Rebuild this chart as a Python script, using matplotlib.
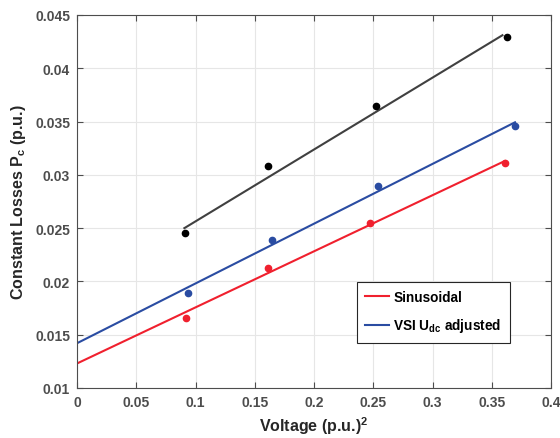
import matplotlib.pyplot as plt

plt.rcParams['font.family'] = 'Liberation Sans'
plt.rcParams['font.weight'] = 'bold'
plt.rcParams['mathtext.fontset'] = 'custom'
plt.rcParams['mathtext.rm'] = 'Liberation Sans:bold'
plt.rcParams['mathtext.it'] = 'Liberation Sans:bold'
plt.rcParams['mathtext.bf'] = 'Liberation Sans:bold'

# measured points
black_x = [0.091, 0.161, 0.252, 0.3626]
black_y = [0.02454, 0.0308, 0.0365, 0.04297]
blue_x = [0.094, 0.1643, 0.2543, 0.370]
blue_y = [0.01891, 0.02389, 0.02898, 0.03461]
red_x = [0.0917, 0.161, 0.2475, 0.3612]
red_y = [0.0166, 0.02123, 0.02545, 0.03111]

# fitted lines (end points)
black_fit_x = [0.0906, 0.359]
black_fit_y = [0.0250, 0.0431]
blue_fit_x = [0.0, 0.3696]
blue_fit_y = [0.0142, 0.03493]
red_fit_x = [0.0, 0.361]
red_fit_y = [0.0123, 0.0313]

RED = '#f0202e'
BLUE = '#2a4ca2'
DARK = '#404040'
TXT = '#4d4d4d'

fig = plt.figure(figsize=(5.6, 4.39), dpi=100)
ax = fig.add_axes([0.1375, 0.1139, 0.8465, 0.8497])

ax.plot(black_fit_x, black_fit_y, color=DARK, linewidth=1.5)
ax.plot(red_fit_x, red_fit_y, color=RED, linewidth=1.5, label='Sinusoidal')
ax.plot(blue_fit_x, blue_fit_y, color=BLUE, linewidth=1.5, label=r'VSI U$_\mathbf{dc}$ adjusted')
ax.plot(black_x, black_y, 'o', color='black', markersize=4.5)
ax.plot(blue_x, blue_y, 'o', color=BLUE, markersize=4.5)
ax.plot(red_x, red_y, 'o', color=RED, markersize=4.5)

ax.set_xlim(0, 0.4)
ax.set_ylim(0.01, 0.045)
ax.set_xticks([0, 0.05, 0.1, 0.15, 0.2, 0.25, 0.3, 0.35, 0.4])
ax.set_xticklabels(['0', '0.05', '0.1', '0.15', '0.2', '0.25', '0.3', '0.35', '0.4'])
ax.set_yticks([0.01, 0.015, 0.02, 0.025, 0.03, 0.035, 0.04, 0.045])
ax.set_yticklabels(['0.01', '0.015', '0.02', '0.025', '0.03', '0.035', '0.04', '0.045'])
ax.grid(True, color='#e6e6e6', linewidth=0.8)
ax.set_axisbelow(True)
ax.tick_params(direction='in', top=True, right=True, length=4, width=0.8,
               colors=TXT, labelsize=10, pad=5)
for lbl in ax.get_xticklabels() + ax.get_yticklabels():
    lbl.set_fontweight('bold')
for s in ax.spines.values():
    s.set_color(TXT)
    s.set_linewidth(0.8)

ax.set_xlabel(r'Voltage (p.u.)$^\mathbf{2}$', fontsize=11.5, fontweight='bold', color='#262626', labelpad=4)
ax.set_ylabel(r'Constant Losses P$_\mathbf{c}$ (p.u.)', fontsize=11.5, fontweight='bold', color='#262626', labelpad=5)

leg = ax.legend(loc='upper left', bbox_to_anchor=(0.590, 0.284),
                prop={'size': 9.8, 'weight': 'bold'},
                fancybox=False, framealpha=1, edgecolor='#262626',
                handlelength=1.8, handletextpad=0.3, borderpad=0.6,
                labelspacing=0.9, borderaxespad=0)
leg.get_frame().set_linewidth(0.8)

fig.savefig('out.png', dpi=100)
